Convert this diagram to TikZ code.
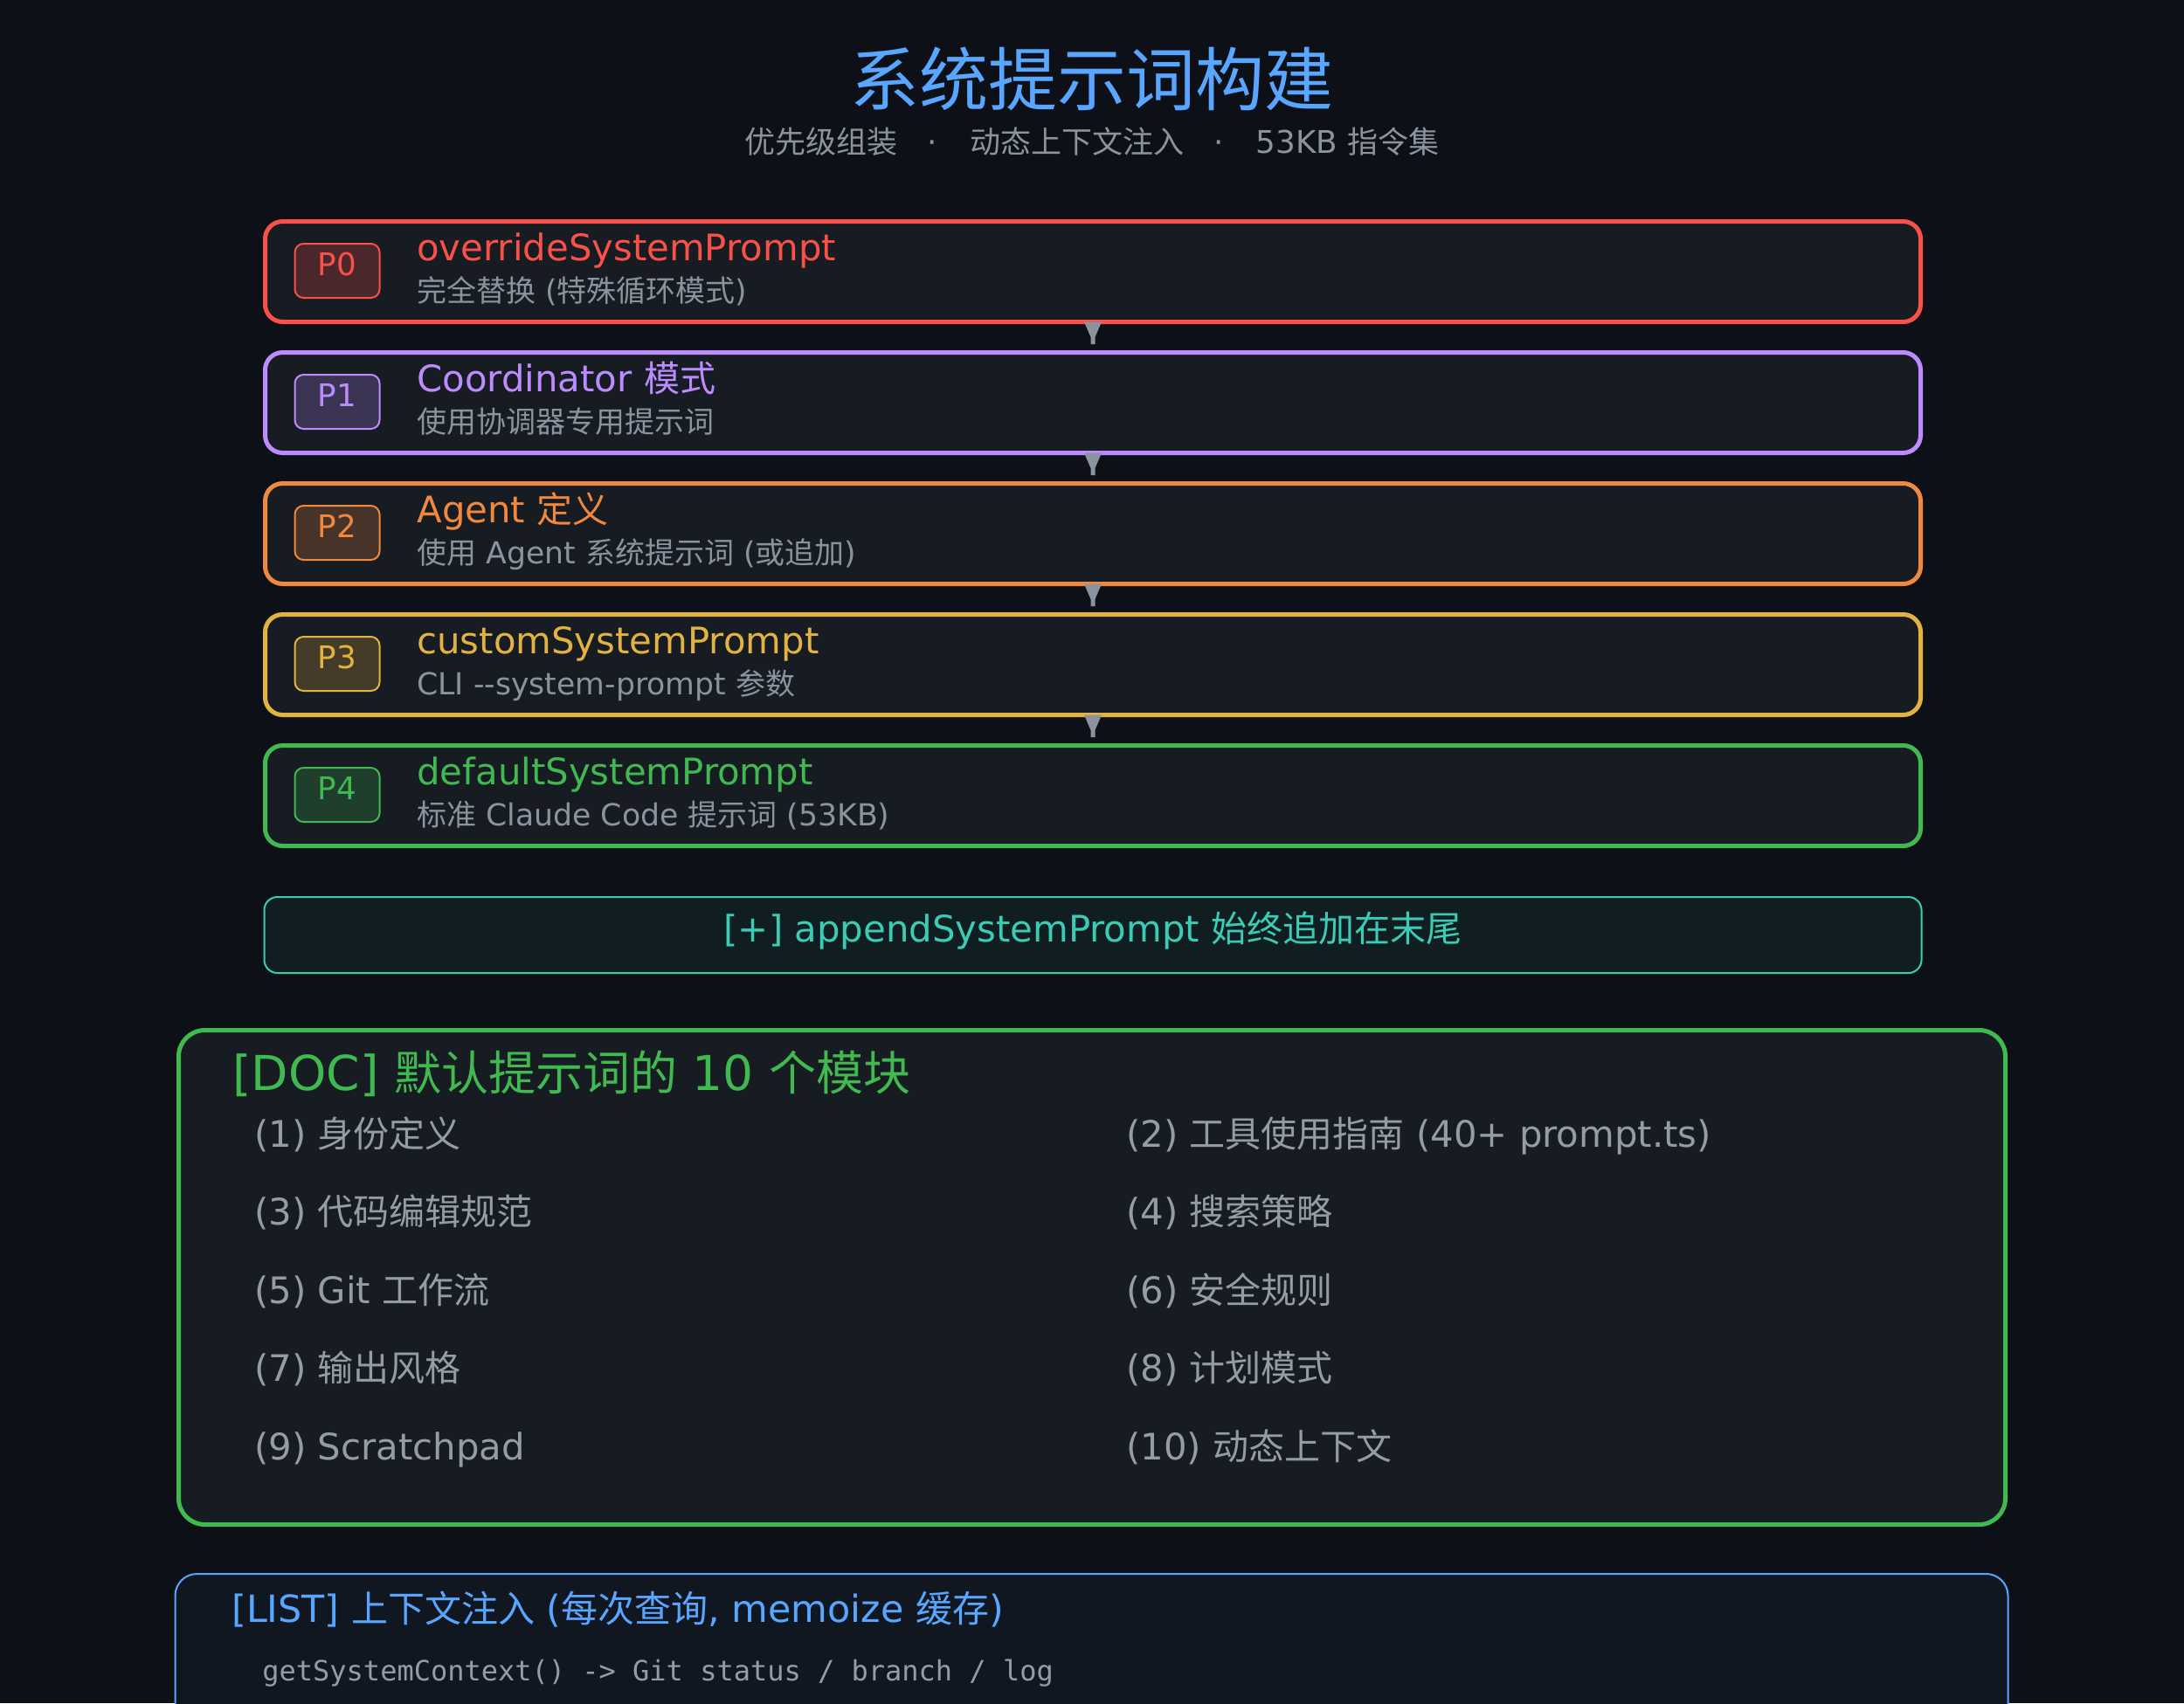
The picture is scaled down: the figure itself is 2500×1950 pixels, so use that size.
\documentclass[tikz,border=0pt]{standalone}
\usepackage{fontspec}
\setmainfont{Noto Sans CJK SC}
\setmonofont{DejaVu Sans Mono}
\newfontfamily\latfnt[Scale=1.02]{DejaVu Sans}
\newfontfamily\cjkfnt{Noto Sans CJK SC}
\newcount\cjkcc
\cjkcc="3000
\loop \XeTeXcharclass\cjkcc=7 \advance\cjkcc by 1 \ifnum\cjkcc<"A000 \repeat
\XeTeXinterchartoks 0 7 = {\cjkfnt}
\XeTeXinterchartoks 4095 7 = {\cjkfnt}
\XeTeXinterchartoks 7 0 = {\latfnt}
\XeTeXinterchartoks 7 4095 = {\latfnt}
\XeTeXinterchartoks 4095 0 = {\latfnt}
\usetikzlibrary{calc}
\definecolor{bg}{HTML}{0D1117}
\definecolor{boxfill}{HTML}{171B22}
\definecolor{cred}{HTML}{F85149}
\definecolor{cpurple}{HTML}{BC8CFF}
\definecolor{corange}{HTML}{F0883E}
\definecolor{cyellow}{HTML}{E3B341}
\definecolor{cgreen}{HTML}{3FB950}
\definecolor{cteal}{HTML}{3CCBB4}
\definecolor{cblue}{HTML}{58A6FF}
\definecolor{cgray}{HTML}{8B949E}
\definecolor{citem}{HTML}{959CA5}
\definecolor{arrowgray}{HTML}{8B949E}
\tikzset{
  pbox/.style={draw=#1, rounded corners=10pt, line width=2.5pt, fill=boxfill,
    minimum width=947.5pt, minimum height=57.5pt, inner sep=0pt},
  badge/.style={draw=#1, fill=#1!22!boxfill, rounded corners=5pt, line width=1pt,
    minimum width=48.5pt, minimum height=31pt, inner sep=0pt},
  btext/.style={anchor=base, inner sep=0pt, text=#1, font=\fontsize{17.5}{18}\selectfont},
  ptitle/.style={anchor=base west, inner sep=0pt, text=#1, font=\fontsize{20.5}{22}\selectfont},
  psub/.style={anchor=base west, inner sep=0pt, text=cgray, font=\fontsize{17}{18}\selectfont},
  item/.style={anchor=base west, inner sep=0pt, text=citem, font=\fontsize{20.5}{22}\selectfont},
}
\begin{document}
\XeTeXinterchartokenstate=1
\begin{tikzpicture}[x=0.5pt,y=-0.5pt]
\clip (0,0) rectangle (2500,1950);
\fill[bg] (0,0) rectangle (2500,1950);
\useasboundingbox (0,0) rectangle (2500,1950);

% title
\node[anchor=base, inner sep=0pt, text=cblue, font=\fontsize{39.5}{40}\selectfont] (title) at (1250,120) {系统提示词构建};
\node[anchor=base, inner sep=0pt, text=cgray, font=\fontsize{17.5}{18}\selectfont] (subtitle) at (1250,175)
  {优先级组装\hspace{0.95em}·\hspace{1.05em}动态上下文注入\hspace{0.95em}·\hspace{1.05em}53KB 指令集};

% priority boxes
\foreach \i/\c/\y/\t/\s in {
  0/cred/311/overrideSystemPrompt/完全替换 (特殊循环模式),
  1/cpurple/461/Coordinator 模式/使用协调器专用提示词,
  2/corange/611/Agent 定义/使用 Agent 系统提示词 (或追加),
  3/cyellow/761/customSystemPrompt/CLI -{}-system-prompt 参数,
  4/cgreen/911/defaultSystemPrompt/标准 Claude Code 提示词 (53KB)}{
  \node[pbox=\c] (p\i) at (1251,\y) {};
  \node[badge=\c] (b\i) at (386,\y-1) {};
  \node[btext=\c] (bt\i) at (386,\y+4) {P\i};
  \node[ptitle=\c] (t\i) at (477,\y-12.5) {\t};
  \node[psub] (s\i) at (477,\y+34.5) {\s};
}

% arrows between boxes
\foreach \a in {0,1,2,3}{
  \fill[arrowgray] ($(p\a.south)+(-10,-2.5)$) -- ($(p\a.south)+(10,-2.5)$)
    -- ($(p\a.south)+(2.5,15)$) -- ($(p\a.south)+(2.5,23)$)
    -- ($(p\a.south)+(-2.5,23)$) -- ($(p\a.south)+(-2.5,15)$) -- cycle;
}

% append box
\node[draw=cteal, fill=cteal!7!bg, rounded corners=7.5pt, line width=1pt,
  minimum width=948.5pt, minimum height=43.5pt, inner sep=0pt] (app) at (1251,1070.5) {};
\node[anchor=base, inner sep=0pt, text=cteal, font=\fontsize{20.5}{22}\selectfont] (appt) at (1251,1078)
  {[+] appendSystemPrompt 始终追加在末尾};

% DOC box
\node[draw=cgreen, fill=boxfill, rounded corners=15pt, line width=2.5pt,
  minimum width=1045.5pt, minimum height=283pt, inner sep=0pt] (doc) at (1250,1462.5) {};
\node[anchor=base west, inner sep=0pt, text=cgreen, font=\fontsize{27}{28}\selectfont] (doct) at (266,1248)
  {[DOC] 默认提示词的 10 个模块};
\node[item] (m1) at (291,1313) {(1) 身份定义};
\node[item] (m2) at (1289,1313) {(2) 工具使用指南 (40+ prompt.ts)};
\node[item] (m3) at (291,1402.5) {(3) 代码编辑规范};
\node[item] (m4) at (1289,1402.5) {(4) 搜索策略};
\node[item] (m5) at (291,1492) {(5) Git 工作流};
\node[item] (m6) at (1289,1492) {(6) 安全规则};
\node[item] (m7) at (291,1581.5) {(7) 输出风格};
\node[item] (m8) at (1289,1581.5) {(8) 计划模式};
\node[item] (m9) at (291,1671) {(9) Scratchpad};
\node[item] (m10) at (1289,1671) {(10) 动态上下文};

% LIST box
\node[draw=cblue, fill=cblue!4!bg, rounded corners=12.5pt, line width=1pt,
  minimum width=1049pt, minimum height=150pt, inner sep=0pt] (lst) at (1249.5,1952) {};
\node[anchor=base west, inner sep=0pt, text=cblue, font=\fontsize{21}{22}\selectfont] (lstt) at (265,1857)
  {[LIST] 上下文注入 (每次查询, memoize 缓存)};
\node[anchor=base west, inner sep=0pt, text=citem, font=\ttfamily\fontsize{16}{17}\selectfont] (lstc) at (300,1924)
  {\XeTeXinterchartokenstate=0 getSystemContext() -> Git status / branch / log};
\end{tikzpicture}
\end{document}
